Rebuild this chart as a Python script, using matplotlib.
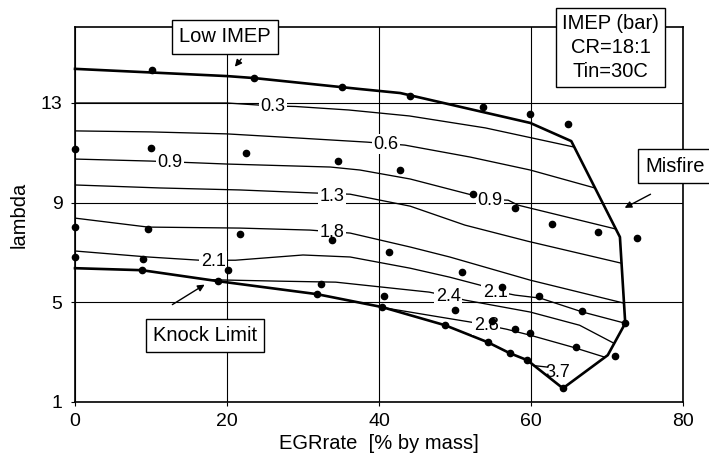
import matplotlib
matplotlib.use("Agg")
import matplotlib.pyplot as plt

plt.rcParams['font.family'] = ['Liberation Sans', 'DejaVu Sans']

# ---- operating-range boundary (Low IMEP -> Misfire -> Knock Limit) ----
boundary_x = [0, 20, 23.6, 37.5, 42.8, 59.9, 65.3, 71.7, 72.4, 70.1, 64.2,
              59.5, 57.2, 54.3, 48.7, 40.4, 31.8, 18.8, 8.8, 0]
boundary_y = [14.37, 14.08, 14.0, 13.56, 13.4, 12.2, 11.47, 7.62, 4.16, 2.88, 1.55,
              2.68, 2.96, 3.4, 4.08, 4.81, 5.33, 5.85, 6.29, 6.37]

# ---- iso-IMEP contour lines ----
c03_x = [0, 20, 26, 29, 36, 44, 54, 65.7]
c03_y = [13.0, 13.0, 12.88, 12.86, 12.72, 12.48, 12.0, 11.23]
c06_x = [0, 9.9, 20, 29.6, 38.4, 43.4, 52, 59.9, 68.4]
c06_y = [11.88, 11.84, 11.76, 11.59, 11.43, 11.31, 10.83, 10.31, 9.59]
c09_x = [0, 9.9, 20, 33.6, 37.5, 44.1, 52.2, 55, 57, 58.3, 71.2]
c09_y = [10.75, 10.67, 10.55, 10.43, 10.31, 9.95, 9.31, 9.12, 9.1, 8.9, 7.94]
c13_x = [0, 11.2, 21.7, 31.3, 36.2, 44.1, 51.3, 59.6, 71.9]
c13_y = [9.71, 9.59, 9.51, 9.39, 9.34, 8.86, 8.1, 7.45, 6.57]
c18_x = [0, 9.6, 21.7, 30.9, 36.2, 44.1, 49.3, 59.9, 72.2]
c18_y = [8.38, 8.02, 7.98, 7.9, 7.78, 7.22, 6.82, 5.89, 4.97]
c21_x = [0, 9.6, 16.4, 21.1, 30, 36.2, 44.1, 49.3, 53.3, 55.3, 57.9, 61.2, 66.8, 72.4]
c21_y = [7.06, 6.82, 6.69, 6.69, 6.9, 6.82, 6.37, 6.01, 5.69, 5.45, 5.29, 5.17, 4.61, 4.16]
c24_x = [17.4, 26.8, 34.3, 46.6, 48.8, 51.3, 59.9, 66.4, 70.9]
c24_y = [5.91, 5.85, 5.81, 5.41, 5.27, 5.09, 4.61, 4.08, 3.36]
c28_x = [40.5, 48, 52.2, 54.2, 56.8, 59.9, 65.5, 69.7]
c28_y = [4.79, 4.41, 4.2, 4.08, 3.92, 3.68, 3.2, 2.8]
c37_x = [60.4, 62.2]
c37_y = [2.46, 2.4]

# ---- contour labels ----
label_text = ['0.3', '0.6', '0.9', '0.9', '1.3', '1.8', '2.1', '2.1', '2.4', '2.8']
label_x = [26.05, 40.9, 12.5, 54.6, 33.8, 33.8, 18.2, 55.3, 49.1, 54.1]
label_y = [12.84, 11.35, 10.6, 9.1, 9.25, 7.82, 6.65, 5.41, 5.25, 4.08]

# ---- measured points ----
dots_x = [10.1, 23.6, 35.1, 44.1, 53.7, 59.9, 64.9,
          0, 10, 22.5, 34.6, 42.8, 52.4, 57.9, 62.8, 68.8, 73.9,
          0, 9.6, 21.7, 33.8, 41.3, 50.9, 56.2, 61.1, 66.7, 72.4,
          0, 9, 20.1, 32.4, 40.7, 50, 54.9, 57.9, 59.9, 65.9, 71.1,
          8.8, 18.8, 31.8, 40.4, 48.7, 54.3, 57.2, 59.5, 64.2]
dots_y = [14.33, 14.0, 13.64, 13.3, 12.84, 12.56, 12.16,
          11.15, 11.19, 10.99, 10.67, 10.31, 9.35, 8.78, 8.14, 7.82, 7.58,
          8.02, 7.94, 7.74, 7.5, 7.02, 6.21, 5.61, 5.25, 4.65, 4.16,
          6.82, 6.73, 6.29, 5.73, 5.25, 4.69, 4.24, 3.92, 3.76, 3.2, 2.84,
          6.29, 5.85, 5.33, 4.81, 4.08, 3.4, 2.96, 2.68, 1.55]

x_ticks = [0, 20, 40, 60, 80]
y_ticks = [1, 5, 9, 13]

W, H = 709, 455
fig = plt.figure(figsize=(W / 100, H / 100), dpi=100)
ax = fig.add_axes([75 / W, 1 - 402 / H, 608 / W, 375 / H])
ax.set_xlim(0, 80)
ax.set_ylim(1, 16.05)
ax.set_xticks(x_ticks)
ax.set_yticks(y_ticks)
ax.grid(True, color='black', lw=0.8)
ax.set_axisbelow(True)
for s in ax.spines.values():
    s.set_linewidth(1.2)
ax.tick_params(axis='both', labelsize=14, colors='black', width=0.8)
ax.tick_params(axis='x', length=3, pad=5)
ax.tick_params(axis='y', length=3, pad=6)

contours = [(c03_x, c03_y), (c06_x, c06_y), (c09_x, c09_y), (c13_x, c13_y),
            (c18_x, c18_y), (c21_x, c21_y), (c24_x, c24_y), (c28_x, c28_y),
            (c37_x, c37_y)]
for cx, cy in contours:
    ax.plot(cx, cy, color='black', lw=0.95, zorder=3)

ax.plot(boundary_x, boundary_y, color='black', lw=1.9, zorder=4, clip_on=False)

for t, lx, ly in zip(label_text, label_x, label_y):
    ax.text(lx, ly, t, fontsize=13, ha='center', va='center', zorder=5,
            bbox=dict(facecolor='white', edgecolor='none', pad=1.0))
ax.text(63.55, 2.2, '3.7', fontsize=13, ha='center', va='center', zorder=5)

ax.plot(dots_x, dots_y, 'o', color='black', ms=4.5, zorder=6, clip_on=False)

ax.set_xlabel('EGRrate  [% by mass]', fontsize=14.5)
ax.set_ylabel('lambda', fontsize=14.5)
ax.xaxis.set_label_coords(0.5, -0.086)
ax.yaxis.set_label_coords(-0.076, 0.5)

box = dict(boxstyle='square,pad=0.35', facecolor='white', edgecolor='black', lw=1.0)
ax.text(19.74, 15.65, 'Low IMEP', fontsize=14.5, ha='center', va='center',
        bbox=box, zorder=8, clip_on=False)
ax.text(70.46, 15.23, 'IMEP (bar)\nCR=18:1\nTin=30C', fontsize=14.5, ha='center',
        va='center', linespacing=1.35,
        bbox=dict(boxstyle='square,pad=0.3', facecolor='white', edgecolor='black', lw=1.0),
        zorder=8, clip_on=False)
ax.text(78.95, 10.47, 'Misfire', fontsize=14.5, ha='center', va='center',
        bbox=box, zorder=8, clip_on=False)
ax.text(17.1, 3.68, 'Knock Limit', fontsize=14.5, ha='center', va='center',
        bbox=box, zorder=8, clip_on=False)

arrow = dict(arrowstyle='-|>', color='black', lw=1.0, mutation_scale=10)
ax.annotate('', xy=(20.8, 14.37), xytext=(22.1, 14.85), arrowprops=arrow,
            annotation_clip=False)
ax.annotate('', xy=(72.0, 8.74), xytext=(76.05, 9.39), arrowprops=arrow,
            annotation_clip=False)
ax.annotate('', xy=(17.37, 5.77), xytext=(12.5, 4.85), arrowprops=arrow,
            annotation_clip=False)

fig.savefig('out.png', dpi=100)
